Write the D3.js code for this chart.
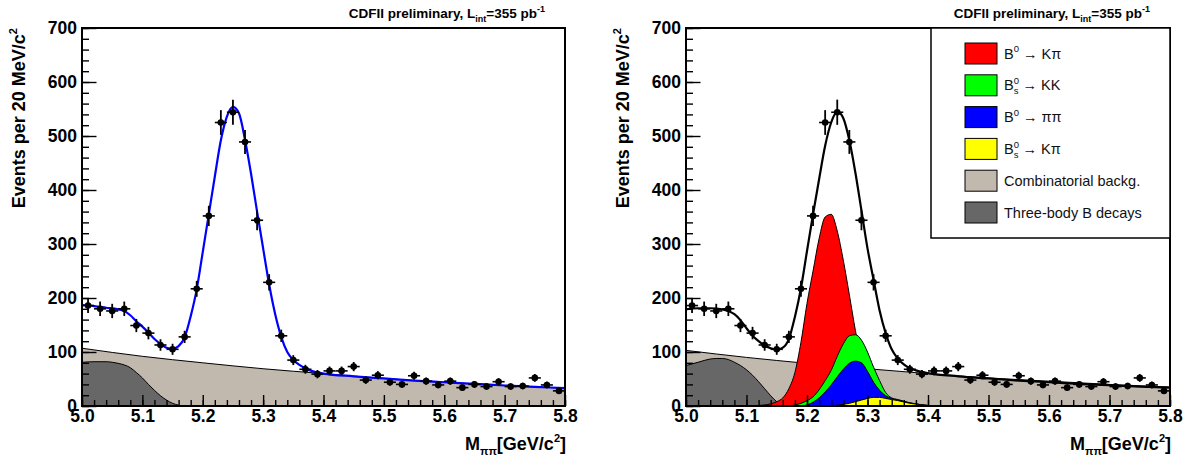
<!DOCTYPE html>
<html>
<head>
<meta charset="utf-8">
<script src="https://cdn.jsdelivr.net/npm/d3@7/dist/d3.min.js"></script>
<style>
body { margin: 0; background: #fff; }
svg { display: block; font-family: "Liberation Sans", Arial, Helvetica, sans-serif; }
</style>
</head>
<body>
<svg width="1192" height="460"></svg>
<script>
// Measured histogram: bin centres (GeV/c2) and events per 20 MeV bin
var massBins = [5.01, 5.03, 5.05, 5.07, 5.09, 5.11, 5.13, 5.15, 5.17, 5.19,
                5.21, 5.23, 5.25, 5.27, 5.29, 5.31, 5.33, 5.35, 5.37, 5.39,
                5.41, 5.43, 5.45, 5.47, 5.49, 5.51, 5.53, 5.55, 5.57, 5.59,
                5.61, 5.63, 5.65, 5.67, 5.69, 5.71, 5.73, 5.75, 5.77, 5.79];
var events = [186, 180, 176, 180, 149, 135, 113, 105, 128, 217,
              352, 525, 544, 489, 344, 229, 130, 85, 68, 59,
              65, 65, 73, 48, 57, 44, 40, 56, 46, 39,
              46, 34, 40, 36, 45, 36, 37, 52, 39, 28];

// Total fit curve
var fitGrid = [5.00, 5.02, 5.04, 5.06, 5.07, 5.08, 5.09, 5.10, 5.11, 5.12, 5.13, 5.14, 5.15,
               5.16, 5.17, 5.18, 5.19, 5.20, 5.21, 5.22, 5.23, 5.24, 5.25, 5.26, 5.27, 5.28,
               5.29, 5.30, 5.31, 5.32, 5.33, 5.34, 5.35, 5.36, 5.37, 5.38, 5.40, 5.45, 5.50,
               5.55, 5.60, 5.65, 5.70, 5.75, 5.80];
var fitLeft = [187, 185, 182, 179, 176, 168, 157, 147, 136, 124, 115, 108, 106,
               111, 127, 166, 216, 285, 355, 425, 492, 536, 554, 542, 493, 430,
               360, 292, 225, 170, 128, 100, 85, 76, 70, 65, 60, 55, 51,
               47, 44, 41, 38, 35.5, 33];
var fitRight = [179, 181, 181, 179, 176, 170, 159, 144, 130, 120, 112, 107, 104,
                108, 124, 165, 218, 287, 355, 420, 482, 525, 545, 533, 492, 432,
                362, 292, 234, 177, 135, 105, 88, 77, 70, 66, 61, 55, 51,
                47, 44, 41, 38.5, 36, 34];

// Combinatorial background
var bgGrid = [5.0, 5.1, 5.2, 5.3, 5.4, 5.5, 5.6, 5.7, 5.8];
var bgLeft = [107, 92, 80, 69, 60, 51, 44, 38, 33];
var bgRight = [103, 90, 79, 69, 60, 52, 46, 40, 35];

// Three-body B decays
var tbGrid = [5.00, 5.02, 5.04, 5.05, 5.06, 5.07, 5.08, 5.09, 5.10, 5.11, 5.12, 5.13,
              5.14, 5.15, 5.16, 5.17, 5.20];
var tbLeft = [81, 82, 82, 81, 79, 76, 71, 62, 52, 40, 29, 19, 11, 5, 1.5, 0, 0];
var tbRight = [75, 81, 87, 88, 88, 86, 81, 75, 67, 57, 45, 32, 19, 8, 2, 0, 0];

// Signal components in the right panel (drawn as shown, overlapping)
var sigGrid = [5.10, 5.12, 5.14, 5.15, 5.16, 5.17, 5.18, 5.19, 5.20, 5.21, 5.22, 5.23,
               5.24, 5.25, 5.26, 5.27, 5.28, 5.29, 5.30, 5.31, 5.32, 5.33, 5.34, 5.35,
               5.36, 5.37, 5.38, 5.39, 5.40, 5.41, 5.42];
var sigKpi = [0, 1, 4, 8, 15, 32, 62, 118, 190, 250, 310, 350,
              355, 324, 270, 206, 140, 85, 48, 24, 11, 4, 1.5, 0,
              0, 0, 0, 0, 0, 0, 0];
var sigKK = [0, 0, 0, 0, 0, 0, 2, 5, 10, 17, 30, 47,
             66, 92, 115, 130, 132, 122, 100, 72, 47, 25, 15, 12,
             9, 6, 4, 2, 1, 0.5, 0];
var sigPipi = [0, 0, 0, 0, 0, 0, 0, 0, 2, 7, 15, 26,
               39, 54, 68, 79, 83, 80, 64, 44, 29, 19, 14, 11,
               8, 5.5, 4, 2, 1, 0.5, 0];
var sigBsKpi = [0, 0, 0, 0, 0, 0, 0, 0, 0, 0, 0, 0.3,
                0.8, 1.5, 3, 5, 8, 11, 14, 16, 16, 14, 12, 10,
                7.5, 5, 3.5, 2, 1, 0.5, 0];

// Ticks
var yTicks = [0, 100, 200, 300, 400, 500, 600, 700];
var xTicks = [5.0, 5.1, 5.2, 5.3, 5.4, 5.5, 5.6, 5.7, 5.8];

// Legend
var legendColors = ['#ff0000', '#00ff00', '#0000ff', '#ffff00', '#c1b8ae', '#676767'];
var legendLabels = [
  [['B', ''], ['0', 'sup'], [' \u2192 K\u03c0', '']],
  [['B', ''], ['0', 'sup'], ['s', 'sub'], [' \u2192 KK', '']],
  [['B', ''], ['0', 'sup'], [' \u2192 \u03c0\u03c0', '']],
  [['B', ''], ['0', 'sup'], ['s', 'sub'], [' \u2192 K\u03c0', '']],
  [['Combinatorial backg.', '']],
  [['Three-body B decays', '']]
];

var bgColor = '#c1b8ae';
var tbColor = '#676767';

var svg = d3.select('svg');

function zipPts(xs, ys) {
  return xs.map((d, i) => ({m: d, v: ys[i]}));
}

// Write text pieces with super/subscripts as tspans (relative dy keeps one text chunk)
function richText(sel, parts, big, small) {
  var supW = 0, cur = 0;
  parts.forEach(p => {
    var t = sel.append('tspan').text(p[0]);
    var off = 0;
    if (p[1] == 'sup') {
      off = -big * 0.42;
      t.style('font-size', small + 'px');
      supW = small * 0.556;
    } else if (p[1] == 'sub') {
      off = big * 0.26;
      t.style('font-size', small + 'px');
      if (supW) t.attr('dx', -supW);
      supW = 0;
    } else {
      t.style('font-size', big + 'px');
      supW = 0;
    }
    if (off != cur) t.attr('dy', off - cur);
    cur = off;
  });
}

function drawPanel(p) {
  var x = d3.scaleLinear().domain([5.0, 5.8]).range([p.left, p.right]);
  var y = d3.scaleLinear().domain([0, 700]).range([406, 28]);
  var g = svg.append('g');

  var clipId = 'clip' + p.left;
  g.append('clipPath').attr('id', clipId)
    .append('rect').attr('x', p.left).attr('y', 28)
    .attr('width', p.right - p.left).attr('height', 378);
  var plot = g.append('g').attr('clip-path', 'url(#' + clipId + ')');

  var area = d3.area().curve(d3.curveMonotoneX)
    .x(d => x(d.m)).y0(y(0)).y1(d => y(d.v));
  var line = d3.line().curve(d3.curveMonotoneX)
    .x(d => x(d.m)).y(d => y(d.v));

  // background components
  plot.append('path').datum(zipPts(bgGrid, p.bg))
    .attr('d', area).attr('fill', bgColor).attr('stroke', 'none');
  plot.append('path').datum(zipPts(bgGrid, p.bg))
    .attr('d', line).attr('fill', 'none').attr('stroke', '#000').attr('stroke-width', 1);
  plot.append('path').datum(zipPts(tbGrid, p.tb))
    .attr('d', area).attr('fill', tbColor).attr('stroke', '#000').attr('stroke-width', 1);

  // signal components (right panel only)
  if (p.signals) {
    [[sigKpi, '#ff0000'], [sigKK, '#00ff00'], [sigPipi, '#0000ff'], [sigBsKpi, '#ffff00']]
      .forEach(s => {
        plot.append('path').datum(zipPts(sigGrid, s[0]))
          .attr('d', area).attr('fill', s[1])
          .attr('stroke', '#000').attr('stroke-width', 1);
      });
  }

  // total fit
  plot.append('path').datum(zipPts(fitGrid, p.fit))
    .attr('d', line).attr('fill', 'none')
    .attr('stroke', p.fitColor).attr('stroke-width', 2.2);

  // data points with errors
  var pts = g.append('g').selectAll('g')
    .data(zipPts(massBins, events)).enter().append('g');
  pts.append('line')
    .attr('x1', d => x(d.m - 0.01)).attr('x2', d => x(d.m + 0.01))
    .attr('y1', d => y(d.v)).attr('y2', d => y(d.v))
    .attr('stroke', '#000').attr('stroke-width', 1.6);
  pts.append('line')
    .attr('x1', d => x(d.m)).attr('x2', d => x(d.m))
    .attr('y1', d => y(d.v - Math.sqrt(d.v))).attr('y2', d => y(d.v + Math.sqrt(d.v)))
    .attr('stroke', '#000').attr('stroke-width', 1.8);
  pts.append('circle')
    .attr('cx', d => x(d.m)).attr('cy', d => y(d.v)).attr('r', 3.3).attr('fill', '#000');

  // axes, ticks pointing inwards
  var yMajor = d3.axisLeft(y).tickValues(yTicks).tickSize(-14.5).tickPadding(5).tickFormat(d3.format('d'));
  var yMinor = d3.axisLeft(y).tickValues(d3.range(0, 701, 20)).tickSize(-7).tickFormat('');
  var xMajor = d3.axisBottom(x).tickValues(xTicks).tickSize(-11).tickPadding(4).tickFormat(d3.format('.1f'));
  var xMinor = d3.axisBottom(x).tickValues(d3.range(0, 41).map(i => 5.0 + i * 0.02)).tickSize(-6).tickFormat('');

  [yMinor, yMajor].forEach(a => {
    g.append('g').attr('transform', 'translate(' + p.left + ',0)').call(a)
      .call(s => s.select('.domain').remove())
      .call(s => s.selectAll('line').attr('stroke', '#000').attr('stroke-width', 1.4));
  });
  [xMinor, xMajor].forEach(a => {
    g.append('g').attr('transform', 'translate(0,406)').call(a)
      .call(s => s.select('.domain').remove())
      .call(s => s.selectAll('line').attr('stroke', '#000').attr('stroke-width', 1.4));
  });
  g.selectAll('.tick text')
    .attr('fill', '#000')
    .style('font-size', '17.5px').style('font-weight', 'bold');

  // frame
  g.append('rect')
    .attr('x', p.left).attr('y', 28)
    .attr('width', p.right - p.left).attr('height', 378)
    .attr('fill', 'none').attr('stroke', '#000').attr('stroke-width', 2);

  // y title
  var yt = g.append('text')
    .attr('transform', 'translate(' + p.yTitleX + ',28) rotate(-90)')
    .attr('text-anchor', 'end').style('font-weight', 'bold');
  richText(yt, [['Events per 20 MeV/c', ''], ['2', 'sup']], 18, 11);

  // x title
  var xt = g.append('text').attr('x', p.right + 1).attr('y', 450)
    .attr('text-anchor', 'end').style('font-weight', 'bold');
  richText(xt, [['M', ''], ['\u03c0\u03c0', 'sub'], ['[GeV/c', ''], ['2', 'sup'], [']', '']], 18, 11);

  // top label
  var tt = g.append('text').attr('x', p.titleEnd).attr('y', 18)
    .attr('text-anchor', 'end').style('font-weight', 'bold');
  richText(tt, [['CDFII preliminary, L', ''], ['int', 'sub'], ['=355 pb', ''], ['-1', 'sup']], 13.5, 9);

  // legend
  if (p.signals) {
    var lg = g.append('g');
    lg.append('rect').attr('x', 931).attr('y', 28).attr('width', 239).attr('height', 210)
      .attr('fill', '#fff').attr('stroke', '#000').attr('stroke-width', 1.5);
    legendLabels.forEach((lab, i) => {
      var cy = 53.5 + i * 31.8;
      lg.append('rect').attr('x', 965).attr('y', cy - 10.5).attr('width', 32).attr('height', 21)
        .attr('fill', legendColors[i]).attr('stroke', '#000').attr('stroke-width', 1);
      var lt = lg.append('text').attr('x', 1004).attr('y', cy + 5).attr('fill', '#111');
      richText(lt, lab, 14.5, 9.5);
    });
  }
}

drawPanel({left: 82, right: 565, fit: fitLeft, fitColor: '#0000ff', bg: bgLeft, tb: tbLeft,
           signals: false, yTitleX: 25, titleEnd: 545});
drawPanel({left: 686, right: 1170, fit: fitRight, fitColor: '#000000', bg: bgRight, tb: tbRight,
           signals: true, yTitleX: 629, titleEnd: 1150});
</script>
</body>
</html>
